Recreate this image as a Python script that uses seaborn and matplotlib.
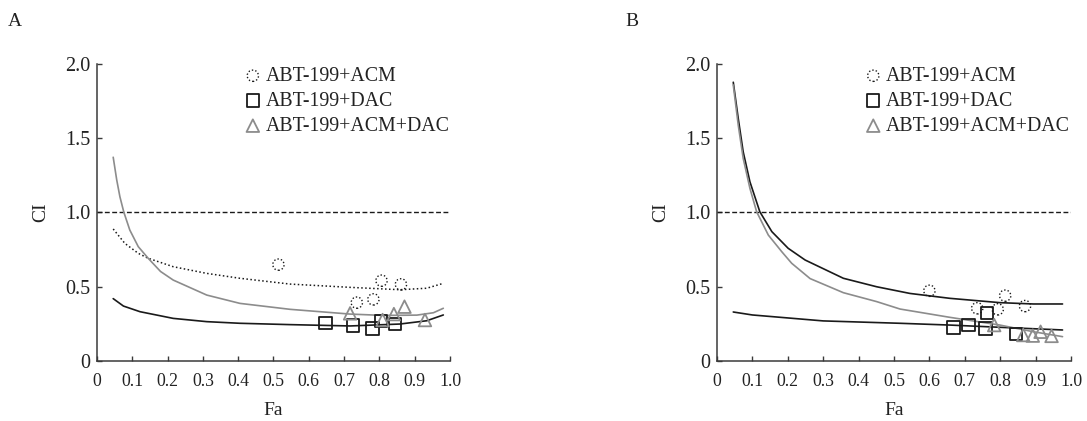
import matplotlib
matplotlib.use("Agg")
import matplotlib.pyplot as plt
import seaborn as sns

sns.set_style("ticks")
plt.rcParams['font.family'] = ['Liberation Serif', 'DejaVu Serif']

# ---------------- data ----------------
series_names = ["ABT-199+ACM", "ABT-199+DAC", "ABT-199+ACM+DAC"]
panel_labels = ["A", "B"]
x_ticks = [0, 0.1, 0.2, 0.3, 0.4, 0.5, 0.6, 0.7, 0.8, 0.9, 1.0]
x_tick_labels = ["0", "0.1", "0.2", "0.3", "0.4", "0.5", "0.6", "0.7", "0.8", "0.9", "1.0"]
y_ticks = [0, 0.5, 1.0, 1.5, 2.0]
y_tick_labels = ["0", "0.5", "1.0", "1.5", "2.0"]
x_title = "Fa"
y_title = "CI"
ref_ci = 1.0

# Panel A - measured points
a_acm_fa = [0.514, 0.736, 0.783, 0.806, 0.861]
a_acm_ci = [0.649, 0.393, 0.415, 0.541, 0.516]
a_dac_fa = [0.647, 0.726, 0.780, 0.804, 0.844]
a_dac_ci = [0.254, 0.240, 0.218, 0.271, 0.249]
a_tri_fa = [0.717, 0.809, 0.841, 0.871, 0.929]
a_tri_ci = [0.321, 0.276, 0.316, 0.366, 0.276]

# Panel A - fitted curves
a_acm_curve_fa = [0.046, 0.079, 0.117, 0.145, 0.216, 0.311, 0.405, 0.547, 0.717, 0.858, 0.934, 0.981]
a_acm_curve_ci = [0.889, 0.792, 0.725, 0.692, 0.635, 0.590, 0.557, 0.518, 0.496, 0.480, 0.490, 0.523]
a_dac_curve_fa = [0.046, 0.075, 0.122, 0.216, 0.311, 0.405, 0.547, 0.717, 0.858, 0.934, 0.981]
a_dac_curve_ci = [0.420, 0.370, 0.332, 0.287, 0.265, 0.254, 0.245, 0.236, 0.249, 0.271, 0.310]
a_tri_curve_fa = [0.046, 0.056, 0.065, 0.076, 0.093, 0.117, 0.145, 0.180, 0.216, 0.311, 0.405, 0.547,
                  0.717, 0.811, 0.906, 0.953, 0.981]
a_tri_curve_ci = [1.372, 1.219, 1.106, 1.003, 0.882, 0.770, 0.692, 0.603, 0.545, 0.444, 0.388, 0.348,
                  0.316, 0.307, 0.309, 0.325, 0.355]

# Panel B - measured points
b_acm_fa = [0.600, 0.735, 0.793, 0.814, 0.870]
b_acm_ci = [0.473, 0.355, 0.348, 0.440, 0.370]
b_dac_fa = [0.668, 0.711, 0.758, 0.762, 0.844]
b_dac_ci = [0.227, 0.242, 0.220, 0.325, 0.182]
b_tri_fa = [0.783, 0.865, 0.892, 0.914, 0.945]
b_tri_ci = [0.242, 0.175, 0.171, 0.197, 0.169]

# Panel B - fitted curves
b_acm_curve_fa = [0.046, 0.060, 0.074, 0.093, 0.121, 0.155, 0.201, 0.249, 0.357, 0.451, 0.545,
                  0.658, 0.799, 0.894, 0.976]
b_acm_curve_ci = [1.877, 1.634, 1.409, 1.207, 1.005, 0.871, 0.759, 0.680, 0.557, 0.500, 0.455,
                  0.422, 0.393, 0.384, 0.384]
b_dac_curve_fa = [0.046, 0.100, 0.300, 0.517, 0.658, 0.799, 0.976]
b_dac_curve_ci = [0.330, 0.310, 0.270, 0.254, 0.242, 0.227, 0.209]
b_tri_curve_fa = [0.046, 0.060, 0.074, 0.093, 0.112, 0.145, 0.183, 0.211, 0.263, 0.357, 0.451,
                  0.517, 0.658, 0.799, 0.894, 0.976]
b_tri_curve_ci = [1.859, 1.589, 1.365, 1.163, 1.005, 0.848, 0.736, 0.658, 0.555, 0.460, 0.400,
                  0.350, 0.294, 0.242, 0.197, 0.164]

# ---------------- styles ----------------
BLACK = "#1a1a1a"
GRAY = "#8c8c8c"
SPINE = "#3a3a3a"

panels = [
    dict(label=panel_labels[0], rect=[0.0892, 0.1425, 0.3248, 0.7055], label_xy=(0.014, 0.95),
         pts=[(a_acm_fa, a_acm_ci), (a_dac_fa, a_dac_ci), (a_tri_fa, a_tri_ci)],
         curves=[(a_acm_curve_fa, a_acm_curve_ci, BLACK, (0, (1, 1.6)), 1.1),
                 (a_dac_curve_fa, a_dac_curve_ci, BLACK, "-", 1.2),
                 (a_tri_curve_fa, a_tri_curve_ci, GRAY, "-", 1.2)]),
    dict(label=panel_labels[1], rect=[0.6596, 0.1425, 0.3257, 0.7055], label_xy=(0.581, 0.95),
         pts=[(b_acm_fa, b_acm_ci), (b_dac_fa, b_dac_ci), (b_tri_fa, b_tri_ci)],
         curves=[(b_acm_curve_fa, b_acm_curve_ci, BLACK, "-", 1.2),
                 (b_dac_curve_fa, b_dac_curve_ci, BLACK, "-", 1.2),
                 (b_tri_curve_fa, b_tri_curve_ci, GRAY, "-", 1.2)]),
]

fig = plt.figure(figsize=(10.87, 4.21), dpi=100)

for p in panels:
    ax = fig.add_axes(p["rect"])
    ax.axhline(ref_ci, color=BLACK, lw=1.0, ls=(0, (3.5, 1.8)), zorder=1)
    for fa, ci, col, ls, lw in p["curves"]:
        sns.lineplot(x=fa, y=ci, ax=ax, color=col, linestyle=ls, linewidth=lw,
                     sort=False, estimator=None, zorder=2)
    (c_fa, c_ci), (s_fa, s_ci), (t_fa, t_ci) = p["pts"]
    sns.scatterplot(x=c_fa, y=c_ci, ax=ax, marker="o", s=66, color=BLACK, facecolor="none",
                    edgecolor=BLACK, linewidth=1.0, linestyle=(0, (1, 1.5)), zorder=3)
    h_c = ax.collections[-1]
    sns.scatterplot(x=s_fa, y=s_ci, ax=ax, marker="s", s=80, color=BLACK, facecolor="none",
                    edgecolor=BLACK, linewidth=1.3, zorder=3)
    h_s = ax.collections[-1]
    sns.scatterplot(x=t_fa, y=t_ci, ax=ax, marker="^", s=82, color=GRAY, facecolor="none",
                    edgecolor=GRAY, linewidth=1.3, zorder=3)
    h_t = ax.collections[-1]

    ax.set_xlim(0, 1.0)
    ax.set_ylim(0, 2.0)
    ax.set_xticks(x_ticks)
    ax.set_xticklabels(x_tick_labels, fontsize=12.8)
    ax.set_yticks(y_ticks)
    ax.set_yticklabels(y_tick_labels, fontsize=14.5)
    ax.tick_params(axis="x", direction="in", length=3.6, width=1.0, color=SPINE, pad=8.5,
                   labelcolor="#222222")
    ax.tick_params(axis="y", direction="in", length=3.6, width=1.0, color=SPINE, pad=5,
                   labelcolor="#222222")
    for side in ["top", "right"]:
        ax.spines[side].set_visible(False)
    for side in ["left", "bottom"]:
        ax.spines[side].set_color(SPINE)
        ax.spines[side].set_linewidth(1.1)
    ax.set_xlabel(x_title, fontsize=14, labelpad=9, color="#222222")
    ax.set_ylabel(y_title, fontsize=14, labelpad=11, color="#222222")
    ax.set_facecolor("white")

    leg = ax.legend(handles=[h_c, h_s, h_t], labels=series_names, loc="upper left",
                    bbox_to_anchor=(0.419, 0.99), frameon=False, fontsize=14.3,
                    handlelength=0.8, handletextpad=0.25, labelspacing=0.3,
                    borderaxespad=0, borderpad=0, scatterpoints=1)
    for t in leg.get_texts():
        t.set_color("#222222")

    fig.text(p["label_xy"][0], p["label_xy"][1], p["label"], fontsize=14, color="#222222",
             ha="center", va="center")

fig.savefig("out.png", dpi=100, facecolor="white")
